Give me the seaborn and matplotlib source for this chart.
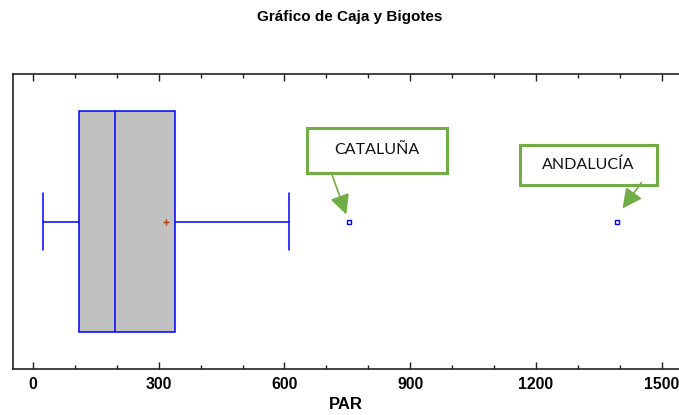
import matplotlib
matplotlib.use("Agg")
import matplotlib.pyplot as plt
import matplotlib.transforms as mtransforms
from matplotlib.patches import Rectangle, FancyArrowPatch
from matplotlib.ticker import MultipleLocator
import seaborn as sns
import pandas as pd

# Parados (miles) por comunidad autónoma
regiones = ["Andalucía", "Cataluña", "C. Valenciana", "Madrid", "Canarias",
            "Galicia", "Castilla-La Mancha", "Castilla y León", "País Vasco",
            "Murcia", "Aragón", "Extremadura", "Asturias", "Baleares",
            "Cantabria", "Navarra", "La Rioja"]
par = [1394, 754, 610, 518, 340, 300, 265, 230, 195, 175, 150, 130, 110,
       95, 70, 45, 25]

x_ticks = [0, 300, 600, 900, 1200, 1500]
titulo = "Gráfico de Caja y Bigotes"
etiqueta_x = "PAR"

# Outliers annotated with a callout: (region, text-box and arrow layout in pixels)
callouts = {
    "Cataluña": dict(box=(-41.7, 49, 140, 45), arrow=((-16.7, 46), (-2.7, 7))),
    "Andalucía": dict(box=(-97.7, 37, 137, 40), arrow=((24.3, 39), (5.3, 13))),
}

df = pd.DataFrame({"region": regiones, "PAR": par})

sns.set_style("white")
plt.rcParams["font.family"] = ["Liberation Sans", "DejaVu Sans"]
plt.rcParams["text.color"] = "black"
plt.rcParams["axes.labelcolor"] = "black"
plt.rcParams["xtick.color"] = "black"

W, H, DPI = 679, 415, 100
fig = plt.figure(figsize=(W / DPI, H / DPI), dpi=DPI)
ax = fig.add_axes([13 / W, 1 - 369 / H, (W - 13) / W, (369 - 74) / H])

green = "#70AD47"
blue = "#0000FF"

sns.boxplot(
    data=df, x="PAR", orient="h", ax=ax,
    width=0.75, color="#C0C0C0", saturation=1, linecolor=blue, linewidth=1.1,
    whis=1.5, showmeans=True, capwidths=0.19,
    meanprops=dict(marker="+", markeredgecolor="#B04010", markersize=5,
                   markeredgewidth=1),
    flierprops=dict(marker="s", markerfacecolor="none", markeredgecolor=blue,
                    markersize=3.5, markeredgewidth=1),
)

ax.set_xlim((13 - 33) / 0.4191, (W - 33) / 0.4191)
ax.set_ylim(0.5, -0.5)
ax.set_yticks([])
ax.set_ylabel("")
ax.set_xticks(x_ticks)
ax.set_xticklabels([str(v) for v in x_ticks], fontsize=11.3, fontweight="bold",
                   color="black")
ax.xaxis.set_minor_locator(MultipleLocator(100))
ax.tick_params(axis="x", which="both", direction="in", top=True, bottom=True,
               color="#222222", width=1, pad=6)
ax.tick_params(axis="x", which="major", length=5)
ax.tick_params(axis="x", which="minor", length=3)
ax.set_xlabel(etiqueta_x, fontsize=12, fontweight="bold", labelpad=3.5,
              color="black")

for side in ["top", "bottom", "left"]:
    ax.spines[side].set_visible(True)
    ax.spines[side].set_color("#222222")
    ax.spines[side].set_linewidth(1.2)
ax.spines["right"].set_visible(False)

fig.text(0.515, 1 - 17 / H, titulo, ha="center", va="center",
         fontsize=11, fontweight="bold", color="black")

# Callouts anchored at the outlier values, laid out in pixel offsets
for region, spec in callouts.items():
    valor = df.loc[df["region"] == region, "PAR"].iloc[0]
    trans = mtransforms.Affine2D() + mtransforms.ScaledTranslation(valor, 0, ax.transData)
    x0, y0, w, h = spec["box"]
    ax.add_patch(Rectangle((x0, y0), w, h, transform=trans, facecolor="white",
                           edgecolor=green, linewidth=2.2, clip_on=False, zorder=5))
    ax.text(x0 + w / 2, y0 + h / 2, region.upper(), transform=trans,
            ha="center", va="center", fontsize=11.5, family=["Lato", "DejaVu Sans"],
            color="#111111", zorder=6)
    (sx, sy), (ex, ey) = spec["arrow"]
    ax.add_patch(FancyArrowPatch((sx, sy), (ex, ey), transform=trans,
                                 arrowstyle="-|>,head_length=0.6,head_width=0.3",
                                 mutation_scale=20, color=green, linewidth=1.2,
                                 shrinkA=0, shrinkB=0, clip_on=False, zorder=5))

fig.savefig("out.png", dpi=DPI)
